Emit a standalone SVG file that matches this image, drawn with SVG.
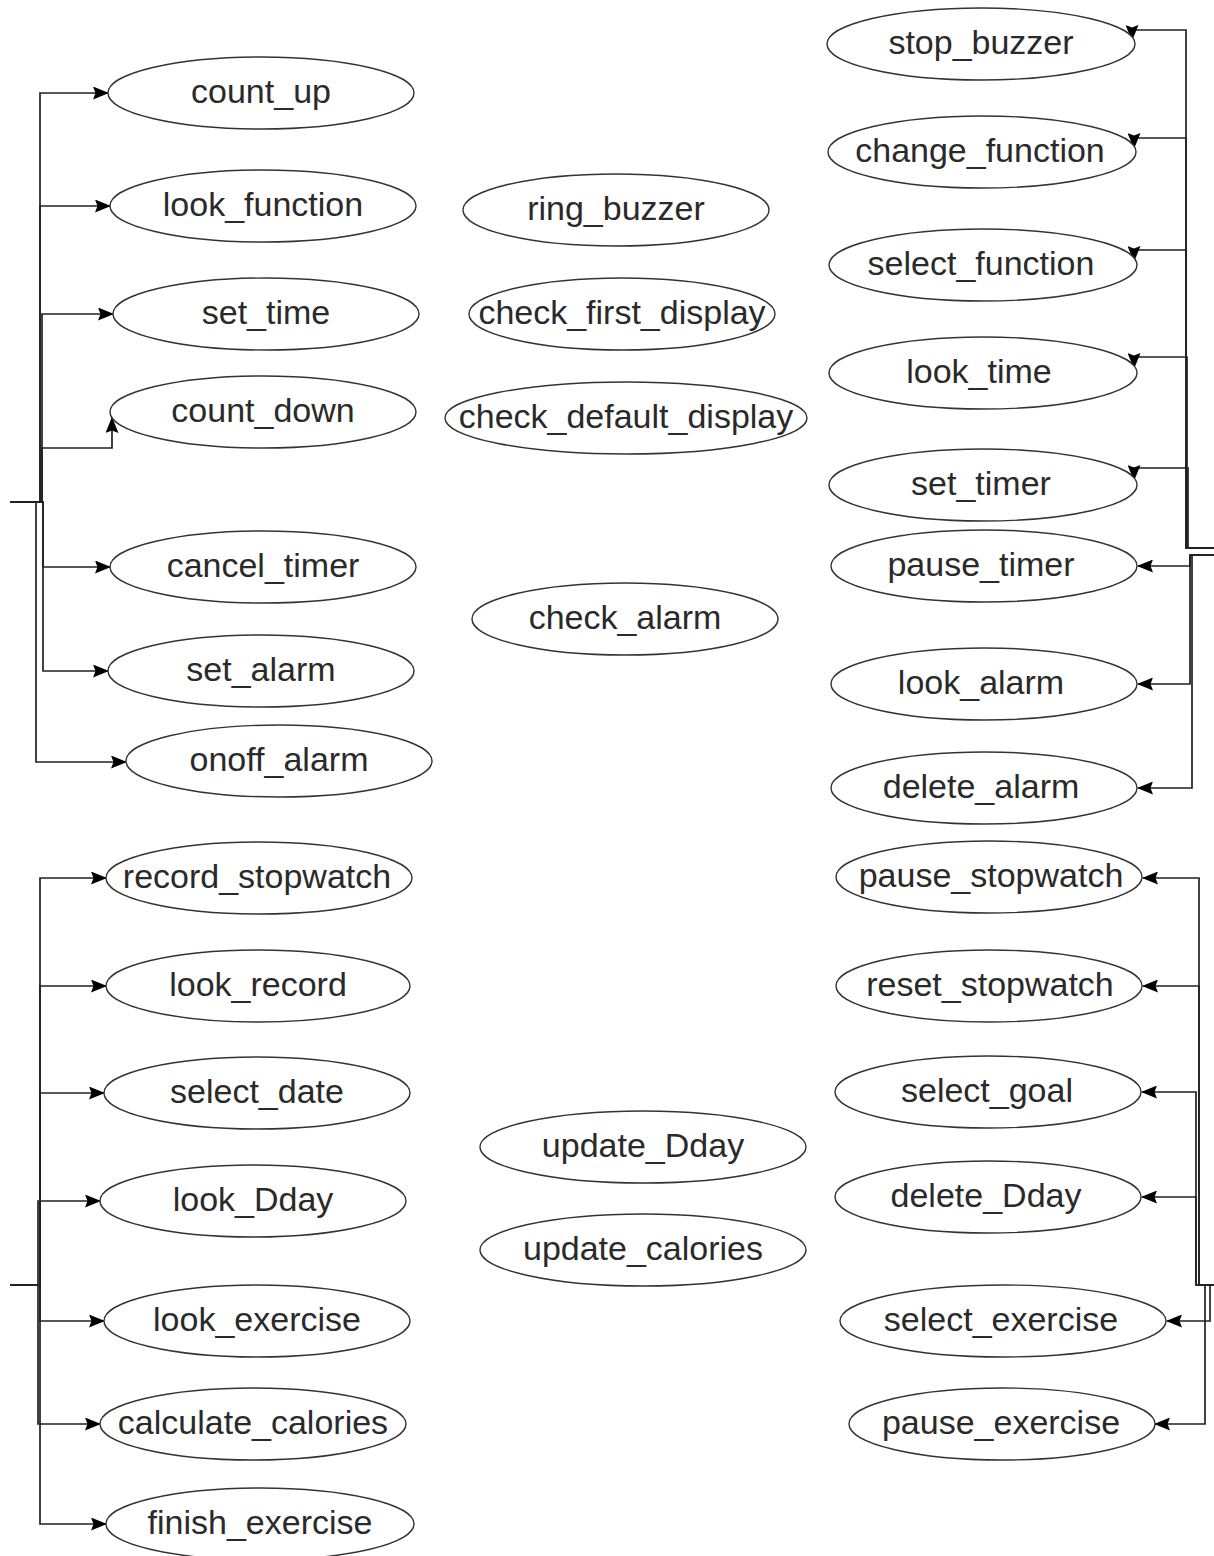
<svg xmlns="http://www.w3.org/2000/svg" width="1214" height="1556" viewBox="0 0 1214 1556">
<style>
.n ellipse{fill:#fff;stroke:#333;stroke-width:1.4}
.n text{font-family:"Liberation Sans",Arial,sans-serif;font-size:34px;fill:#2a2a2a;text-anchor:middle}
.e path{fill:none;stroke:#222;stroke-width:1.7}
</style>
<defs>
<marker id="ah" viewBox="0 0 16 13" refX="15" refY="6.5" markerWidth="16" markerHeight="13" markerUnits="userSpaceOnUse" orient="auto">
<path d="M0,0 L16,6.5 L0,13 L2.5,6.5 z" fill="#000"/>
</marker>
</defs>
<rect width="1214" height="1556" fill="#fff"/>
<g class="e">
<path d="M10,502 H40 V93 H108" marker-end="url(#ah)"/>
<path d="M10,502 H40 V206 H110" marker-end="url(#ah)"/>
<path d="M10,502 H42 V314 H113" marker-end="url(#ah)"/>
<path d="M10,502 H42 V448 H112 V418" marker-end="url(#ah)"/>
<path d="M10,502 H43 V567 H110" marker-end="url(#ah)"/>
<path d="M10,502 H43 V671 H108" marker-end="url(#ah)"/>
<path d="M10,502 H36 V762 H126" marker-end="url(#ah)"/>
<path d="M1214,548 H1186 V30 H1132 V40" marker-end="url(#ah)"/>
<path d="M1214,548 H1186 V138 H1134 V148" marker-end="url(#ah)"/>
<path d="M1214,548 H1186 V250 H1134 V261" marker-end="url(#ah)"/>
<path d="M1214,548 H1187 V357 H1134 V368" marker-end="url(#ah)"/>
<path d="M1214,548 H1188 V468 H1134 V480" marker-end="url(#ah)"/>
<path d="M1214,555 H1190 V566 H1138" marker-end="url(#ah)"/>
<path d="M1214,555 H1190 V684 H1138" marker-end="url(#ah)"/>
<path d="M1214,555 H1192 V788 H1138" marker-end="url(#ah)"/>
<path d="M1214,1285 H1199 V878 H1143" marker-end="url(#ah)"/>
<path d="M1214,1285 H1199 V986 H1143" marker-end="url(#ah)"/>
<path d="M1214,1285 H1196 V1092 H1142" marker-end="url(#ah)"/>
<path d="M1214,1285 H1196 V1197 H1142" marker-end="url(#ah)"/>
<path d="M1214,1285 H1210 V1321 H1167" marker-end="url(#ah)"/>
<path d="M1214,1285 H1205 V1424 H1155" marker-end="url(#ah)"/>
<path d="M10,1285 H40 V878 H106" marker-end="url(#ah)"/>
<path d="M10,1285 H40 V986 H106" marker-end="url(#ah)"/>
<path d="M10,1285 H40 V1093 H104" marker-end="url(#ah)"/>
<path d="M10,1285 H38 V1201 H100" marker-end="url(#ah)"/>
<path d="M10,1285 H40 V1321 H104" marker-end="url(#ah)"/>
<path d="M10,1285 H38 V1424 H100" marker-end="url(#ah)"/>
<path d="M10,1285 H40 V1524 H106" marker-end="url(#ah)"/>
</g>
<g class="n" id="count_up"><ellipse cx="261" cy="93" rx="153" ry="36"/><text x="261" y="103">count_up</text></g>
<g class="n" id="look_function"><ellipse cx="263" cy="206" rx="153" ry="36"/><text x="263" y="216">look_function</text></g>
<g class="n" id="set_time"><ellipse cx="266" cy="314" rx="153" ry="36"/><text x="266" y="324">set_time</text></g>
<g class="n" id="count_down"><ellipse cx="263" cy="412" rx="153" ry="36"/><text x="263" y="422">count_down</text></g>
<g class="n" id="cancel_timer"><ellipse cx="263" cy="567" rx="153" ry="36"/><text x="263" y="577">cancel_timer</text></g>
<g class="n" id="set_alarm"><ellipse cx="261" cy="671" rx="153" ry="36"/><text x="261" y="681">set_alarm</text></g>
<g class="n" id="onoff_alarm"><ellipse cx="279" cy="761" rx="153" ry="36"/><text x="279" y="771">onoff_alarm</text></g>
<g class="n" id="record_stopwatch"><ellipse cx="259" cy="878" rx="153" ry="36"/><text x="257" y="888">record_stopwatch</text></g>
<g class="n" id="look_record"><ellipse cx="258" cy="986" rx="152" ry="36"/><text x="258" y="996">look_record</text></g>
<g class="n" id="select_date"><ellipse cx="257" cy="1093" rx="153" ry="36"/><text x="257" y="1103">select_date</text></g>
<g class="n" id="look_Dday"><ellipse cx="253" cy="1201" rx="153" ry="36"/><text x="253" y="1211">look_Dday</text></g>
<g class="n" id="look_exercise"><ellipse cx="257" cy="1321" rx="153" ry="36"/><text x="257" y="1331">look_exercise</text></g>
<g class="n" id="calculate_calories"><ellipse cx="253" cy="1424" rx="153" ry="36"/><text x="253" y="1434">calculate_calories</text></g>
<g class="n" id="finish_exercise"><ellipse cx="260" cy="1524" rx="154" ry="36"/><text x="260" y="1534">finish_exercise</text></g>
<g class="n" id="ring_buzzer"><ellipse cx="616" cy="210" rx="153" ry="36"/><text x="616" y="220">ring_buzzer</text></g>
<g class="n" id="check_first_display"><ellipse cx="622" cy="314" rx="153" ry="36"/><text x="622" y="324">check_first_display</text></g>
<g class="n" id="check_default_display"><ellipse cx="626" cy="418" rx="181" ry="36"/><text x="626" y="428">check_default_display</text></g>
<g class="n" id="check_alarm"><ellipse cx="625" cy="619" rx="153" ry="36"/><text x="625" y="629">check_alarm</text></g>
<g class="n" id="update_Dday"><ellipse cx="643" cy="1147" rx="163" ry="36"/><text x="643" y="1157">update_Dday</text></g>
<g class="n" id="update_calories"><ellipse cx="643" cy="1250" rx="163" ry="36"/><text x="643" y="1260">update_calories</text></g>
<g class="n" id="stop_buzzer"><ellipse cx="981" cy="44" rx="154" ry="36"/><text x="981" y="54">stop_buzzer</text></g>
<g class="n" id="change_function"><ellipse cx="982" cy="152" rx="154" ry="36"/><text x="980" y="162">change_function</text></g>
<g class="n" id="select_function"><ellipse cx="983" cy="265" rx="154" ry="36"/><text x="981" y="275">select_function</text></g>
<g class="n" id="look_time"><ellipse cx="983" cy="373" rx="154" ry="36"/><text x="979" y="383">look_time</text></g>
<g class="n" id="set_timer"><ellipse cx="983" cy="485" rx="154" ry="36"/><text x="981" y="495">set_timer</text></g>
<g class="n" id="pause_timer"><ellipse cx="984" cy="566" rx="153" ry="36"/><text x="981" y="576">pause_timer</text></g>
<g class="n" id="look_alarm"><ellipse cx="984" cy="684" rx="153" ry="36"/><text x="981" y="694">look_alarm</text></g>
<g class="n" id="delete_alarm"><ellipse cx="984" cy="788" rx="153" ry="36"/><text x="981" y="798">delete_alarm</text></g>
<g class="n" id="pause_stopwatch"><ellipse cx="989" cy="877" rx="153" ry="36"/><text x="991" y="887">pause_stopwatch</text></g>
<g class="n" id="reset_stopwatch"><ellipse cx="989" cy="986" rx="153" ry="36"/><text x="990" y="996">reset_stopwatch</text></g>
<g class="n" id="select_goal"><ellipse cx="988" cy="1092" rx="153" ry="36"/><text x="987" y="1102">select_goal</text></g>
<g class="n" id="delete_Dday"><ellipse cx="988" cy="1197" rx="153" ry="36"/><text x="986" y="1207">delete_Dday</text></g>
<g class="n" id="select_exercise"><ellipse cx="1003" cy="1321" rx="163" ry="36"/><text x="1001" y="1331">select_exercise</text></g>
<g class="n" id="pause_exercise"><ellipse cx="1002" cy="1424" rx="153" ry="36"/><text x="1001" y="1434">pause_exercise</text></g>
</svg>
